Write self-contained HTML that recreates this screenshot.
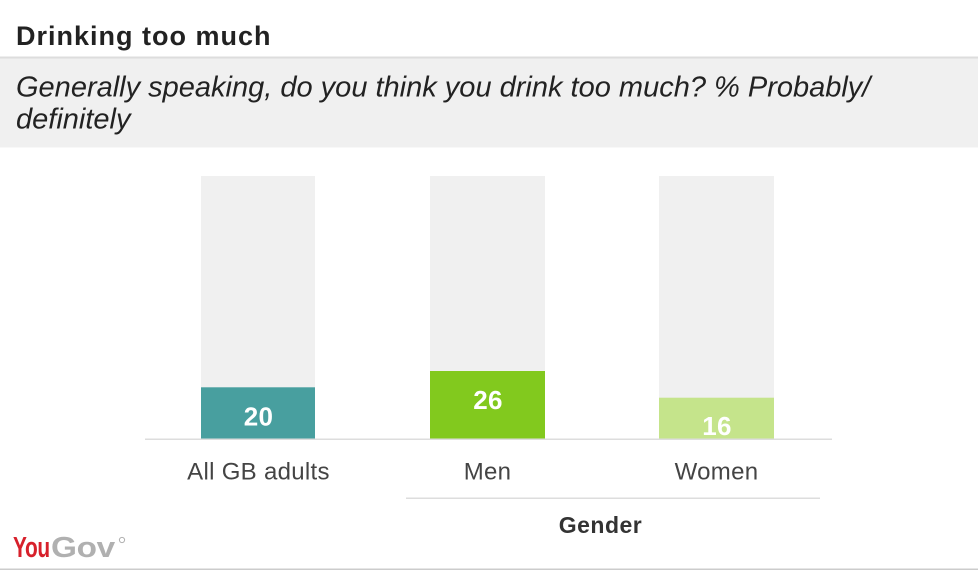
<!DOCTYPE html>
<html>
<head>
<meta charset="utf-8">
<style>
  html, body { margin: 0; padding: 0; background: #ffffff; }
  body { width: 978px; height: 576px; overflow: hidden; }
  svg { display: block; }
  text { font-family: "Liberation Sans", Arial, sans-serif; }
</style>
</head>
<body>
<svg width="978" height="576" viewBox="0 0 978 576" xmlns="http://www.w3.org/2000/svg">
  <rect x="0" y="0" width="978" height="576" fill="#ffffff"/>

  <!-- Title -->
  <text x="16" y="45" font-size="27" font-weight="bold" fill="#222222" letter-spacing="1">Drinking too much</text>
  <rect x="0" y="56.5" width="978" height="2" fill="#dddddd"/>

  <!-- Subtitle box -->
  <rect x="0" y="58.5" width="978" height="89" fill="#f0f0f0"/>
  <text x="16" y="96.7" font-size="29" font-style="italic" fill="#222222">Generally speaking, do you think you drink too much? % Probably/</text>
  <text x="16" y="128.6" font-size="29" font-style="italic" fill="#222222">definitely</text>

  <!-- Bar backgrounds -->
  <rect x="201" y="176" width="114" height="263" fill="#f0f0f0"/>
  <rect x="430" y="176" width="115" height="263" fill="#f0f0f0"/>
  <rect x="659" y="176" width="115" height="263" fill="#f0f0f0"/>

  <!-- Bars -->
  <rect x="201" y="387.3" width="114" height="51.7" fill="#489f9f"/>
  <rect x="430" y="371" width="115" height="68" fill="#82c91e"/>
  <rect x="659" y="397.7" width="115" height="41.3" fill="#c5e48b"/>

  <!-- Values -->
  <text x="258.5" y="425.7" font-size="26" font-weight="bold" fill="#ffffff" text-anchor="middle" letter-spacing="0.3">20</text>
  <text x="488" y="409" font-size="26" font-weight="bold" fill="#ffffff" text-anchor="middle" letter-spacing="0.3">26</text>
  <text x="717" y="435" font-size="26" font-weight="bold" fill="#ffffff" text-anchor="middle" letter-spacing="0.3">16</text>

  <!-- Axis line -->
  <rect x="145" y="438.5" width="687" height="1.5" fill="#dddddd"/>

  <!-- Category labels -->
  <text x="258.5" y="479.5" font-size="24" fill="#444444" text-anchor="middle" letter-spacing="0.3">All GB adults</text>
  <text x="487.5" y="479.5" font-size="24" fill="#444444" text-anchor="middle" letter-spacing="0.3">Men</text>
  <text x="716.5" y="479.5" font-size="24" fill="#444444" text-anchor="middle" letter-spacing="0.3">Women</text>

  <!-- Group line & label -->
  <rect x="406" y="497.5" width="414" height="1.5" fill="#dddddd"/>
  <text x="600.5" y="533" font-size="23" font-weight="bold" fill="#333333" text-anchor="middle" letter-spacing="0.5">Gender</text>

  <!-- YouGov logo -->
  <g transform="translate(13,557) scale(0.72,1)">
    <text x="0" y="0" font-size="29" font-weight="bold" fill="#d7202b" letter-spacing="-0.5">You</text>
  </g>
  <g transform="translate(51,557) scale(1.15,1)">
    <text x="0" y="0" font-size="29" font-weight="bold" fill="#b0b0b0" letter-spacing="-0.3">Gov</text>
  </g>
  <circle cx="122" cy="540" r="2.6" fill="none" stroke="#b0b0b0" stroke-width="1"/>

  <!-- Bottom line -->
  <rect x="0" y="568.5" width="978" height="1.5" fill="#cccccc"/>
</svg>
</body>
</html>
